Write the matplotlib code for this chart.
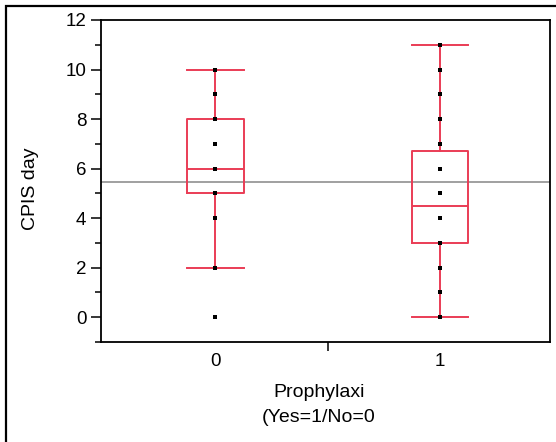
import matplotlib
matplotlib.use("Agg")
import matplotlib.pyplot as plt
from matplotlib.patches import Rectangle
from matplotlib.ticker import MultipleLocator, FixedLocator

plt.rcParams['font.family'] = ['Liberation Sans', 'DejaVu Sans']

# groups and box statistics
groups = [0, 1]
whisker_low = [2, 0]
q1 = [5, 3]
median = [6, 4.5]
q3 = [8, 6.7]
whisker_high = [10, 11]

# observed values (points drawn on each box)
points_0 = [0, 2, 4, 5, 6, 7, 8, 9, 10]
points_1 = [0, 1, 2, 3, 4, 5, 6, 7, 8, 9, 10, 11]

grand_mean = 5.47

red = '#ea3c55'

fig = plt.figure(figsize=(5.56, 4.42), dpi=100)
ax = fig.add_axes([101 / 556, 1 - 342 / 442, 449 / 556, 322 / 442])

# frame around the whole figure
fig.patches.append(Rectangle((6 / 556, -0.05), 1.2, (442 - 6) / 442 + 0.05,
                             transform=fig.transFigure, fill=False,
                             edgecolor='black', linewidth=1.6))

ax.axhline(grand_mean, color='#999999', linewidth=1.3, zorder=1)

stats = []
for i in range(len(groups)):
    stats.append(dict(whislo=whisker_low[i], q1=q1[i], med=median[i],
                      q3=q3[i], whishi=whisker_high[i], fliers=[]))
line = dict(color=red, linewidth=1.4)
ax.bxp(stats, positions=groups, widths=0.25, showfliers=False,
       boxprops=line, whiskerprops=line, medianprops=line,
       capprops=line, capwidths=0.25, manage_ticks=False)

for g, pts in zip(groups, [points_0, points_1]):
    ax.scatter([g] * len(pts), pts, marker='s', s=6, color='black',
               linewidths=0, zorder=3)

ax.set_xlim(-0.51, 1.49)
ax.set_ylim(-1, 12)

ax.yaxis.set_major_locator(MultipleLocator(2))
ax.yaxis.set_minor_locator(MultipleLocator(1))
ax.set_xticks(groups)
ax.set_xticklabels([str(g) for g in groups])
ax.xaxis.set_minor_locator(FixedLocator([0.5]))

ax.tick_params(axis='y', which='major', length=7.5, width=1.1, labelsize=13.5, pad=3)
ax.tick_params(axis='y', which='minor', length=4, width=1.1)
ax.tick_params(axis='x', which='major', length=0, labelsize=13.5, pad=8)
ax.tick_params(axis='x', which='minor', length=6.5, width=1.1)

for s in ax.spines.values():
    s.set_linewidth(1.3)

ax.set_ylabel('CPIS day', fontsize=14, labelpad=19, y=0.475)
ax.set_xlabel('Prophylaxi\n(Yes=1/No=0', fontsize=14, labelpad=10, x=0.485,
              linespacing=1.6)

fig.savefig('out.png', dpi=100)
